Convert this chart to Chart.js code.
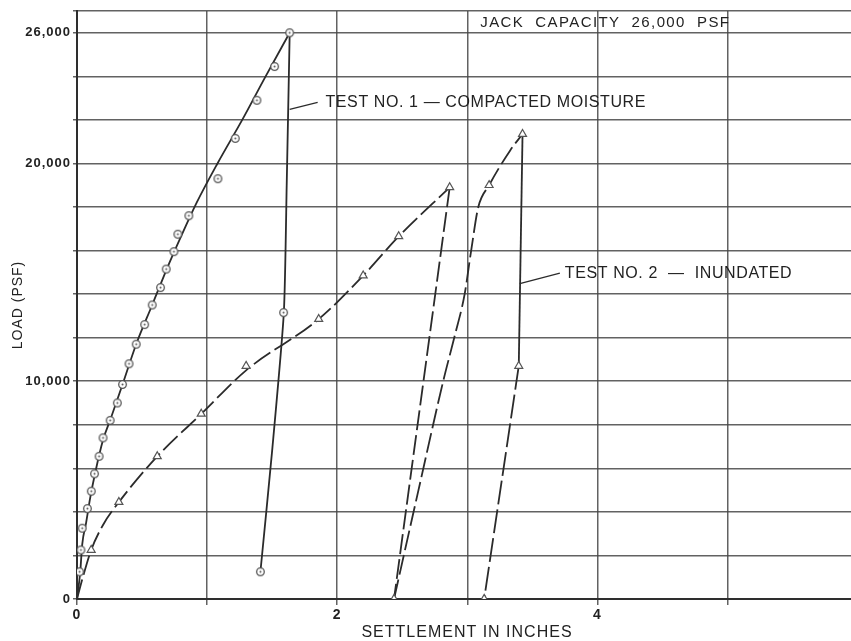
<!DOCTYPE html>
<html>
<head>
<meta charset="utf-8">
<script src="https://cdn.jsdelivr.net/npm/chart.js@4.4.1/dist/chart.umd.min.js"></script>
<style>
  html, body { margin: 0; padding: 0; background: #fff; overflow: hidden; }
  #wrap { width: 851px; height: 641px; position: relative; }
</style>
</head>
<body>
<div id="wrap"><canvas id="c" width="851" height="641"></canvas></div>
<script>
// Plate load tests: settlement (inches) against applied load (psf)

// Test No. 1 - compacted moisture: readings
const test1Settlement = [0.02, 0.03, 0.04, 0.08, 0.11, 0.135, 0.17, 0.2, 0.255, 0.31, 0.35, 0.40, 0.455, 0.52, 0.578, 0.642, 0.686, 0.745, 0.775, 0.86, 1.083, 1.217, 1.383, 1.519, 1.635, 1.588, 1.41];
const test1Load       = [1250, 2250, 3250, 4150, 4950, 5750, 6550, 7400, 8200, 9000, 9850, 10800, 11700, 12600, 13500, 14300, 15150, 15950, 16750, 17600, 19300, 21150, 22900, 24450, 26000, 13150, 1250];

// Test No. 1 - faired loading curve
const test1CurveSettlement = [0, 0.025, 0.04, 0.07, 0.1, 0.14, 0.2, 0.26, 0.35, 0.455, 0.578, 0.69, 0.8, 0.92, 1.08, 1.27, 1.45, 1.635];
const test1CurveLoad       = [0, 1250, 2500, 3500, 4600, 5800, 7300, 8300, 9850, 11700, 13500, 15150, 16650, 18200, 20000, 22000, 24000, 26000];

// Test No. 1 - unloading branch
const test1UnloadSettlement = [1.635, 1.612, 1.59, 1.5, 1.41];
const test1UnloadLoad       = [26000, 19000, 13150, 6800, 1250];

// Test No. 2 - inundated: readings
const test2Settlement = [0.109, 0.322, 0.617, 0.955, 1.30, 1.858, 2.20, 2.473, 2.865, 2.437, 3.168, 3.425, 3.396, 3.13];
const test2Load       = [2250, 4450, 6550, 8500, 10700, 12850, 14850, 16650, 18900, 0, 19000, 21350, 10700, 0];

// Test No. 2 - first loading curve
const test2CurveSettlement = [0, 0.045, 0.109, 0.2, 0.322, 0.617, 0.955, 1.3, 1.858, 2.2, 2.473, 2.865];
const test2CurveLoad       = [0, 1000, 2250, 3400, 4450, 6550, 8500, 10500, 12850, 14850, 16650, 18900];

// Test No. 2 - first unloading
const test2Unload1Settlement = [2.865, 2.437];
const test2Unload1Load       = [18900, 0];

// Test No. 2 - reloading curve
const test2ReloadSettlement = [2.437, 2.625, 2.815, 2.9, 2.98, 3.03, 3.085, 3.168, 3.33, 3.425];
const test2ReloadLoad       = [0, 5000, 10000, 12000, 14000, 16000, 18000, 19000, 20600, 21350];

// Test No. 2 - final unloading (solid then dashed)
const test2Unload2Settlement  = [3.425, 3.396];
const test2Unload2Load        = [21350, 10700];
const test2Unload2bSettlement = [3.396, 3.13];
const test2Unload2bLoad       = [10700, 0];

// Axis tick labels
const settlementTickLabels = [0, 2, 4];
const loadTickLabels = [0, 10000, 20000, 26000];

const pairs = (xs, ys) => xs.map((x, i) => ({ x: x, y: ys[i] }));

const INK = '#2b2b2b';
const MARK = '#555';

// open circle with centre dot used for the Test 1 readings
function ringDot() {
  const c = document.createElement('canvas');
  c.width = 11; c.height = 11;
  const g = c.getContext('2d');
  g.beginPath(); g.arc(5.5, 5.5, 3.8, 0, Math.PI * 2);
  g.fillStyle = '#fff'; g.fill();
  g.lineWidth = 1.3; g.strokeStyle = MARK; g.stroke();
  g.beginPath(); g.arc(5.5, 5.5, 1, 0, Math.PI * 2);
  g.fillStyle = MARK; g.fill();
  return c;
}

const lineStyle = (extra) => Object.assign({
  showLine: true, pointRadius: 0, borderColor: INK, borderWidth: 1.8,
  fill: false, order: 1
}, extra);

const DASH = [20, 5];

// captions and leader lines, placed in data units
const notes = [
  { text: 'JACK  CAPACITY  26,000  PSF', x: 3.1, y: 26450, font: '15px "Liberation Sans", Arial, sans-serif', spacing: '1.4px' },
  { text: 'TEST NO. 1 — COMPACTED MOISTURE', x: 1.91, y: 22800, font: '16px "Liberation Sans", Arial, sans-serif', spacing: '0.6px',
    from: [1.635, 22480], to: [1.85, 22800] },
  { text: 'TEST NO. 2  —  INUNDATED', x: 3.75, y: 14960, font: '16px "Liberation Sans", Arial, sans-serif', spacing: '0.6px',
    from: [3.404, 14480], to: [3.712, 14960] }
];

const spacedTicks = {
  id: 'spacedTicks',
  beforeDraw(chart) { chart.ctx.letterSpacing = '1px'; },
  beforeDatasetsDraw(chart) { chart.ctx.letterSpacing = '0px'; }
};

const captions = {
  id: 'captions',
  afterDraw(chart) {
    const ctx = chart.ctx, xs = chart.scales.x, ys = chart.scales.y, a = chart.chartArea;
    ctx.save();
    ctx.fillStyle = '#222';
    ctx.strokeStyle = INK;
    ctx.lineWidth = 1.3;
    notes.forEach(n => {
      if (n.from) {
        ctx.beginPath();
        ctx.moveTo(xs.getPixelForValue(n.from[0]), ys.getPixelForValue(n.from[1]));
        ctx.lineTo(xs.getPixelForValue(n.to[0]), ys.getPixelForValue(n.to[1]));
        ctx.stroke();
      }
      ctx.font = n.font;
      ctx.letterSpacing = n.spacing;
      ctx.textAlign = 'left';
      ctx.textBaseline = 'middle';
      ctx.fillText(n.text, xs.getPixelForValue(n.x), ys.getPixelForValue(n.y));
    });

    // axis titles
    ctx.font = '16px "Liberation Sans", Arial, sans-serif';
    ctx.letterSpacing = '1px';
    ctx.textAlign = 'center';
    ctx.textBaseline = 'middle';
    ctx.fillText('SETTLEMENT IN INCHES', (a.left + a.right) / 2 + 3, 633);

    ctx.font = '14px "Liberation Sans", Arial, sans-serif';
    ctx.translate(18, (a.top + a.bottom) / 2);
    ctx.rotate(-Math.PI / 2);
    ctx.fillText('LOAD (PSF)', 0, 0);
    ctx.restore();
  }
};

new Chart(document.getElementById('c'), {
  type: 'scatter',
  data: {
    datasets: [
      { label: 'Test 1 readings', data: pairs(test1Settlement, test1Load), pointStyle: ringDot(), pointRadius: 4, order: 0 },
      { label: 'Test 2 readings', data: pairs(test2Settlement, test2Load), pointStyle: 'triangle', pointRadius: 4.6,
        pointBackgroundColor: '#fff', pointBorderColor: MARK, pointBorderWidth: 1.2, order: 0 },
      lineStyle({ label: 'Test 1 loading', data: pairs(test1CurveSettlement, test1CurveLoad), cubicInterpolationMode: 'monotone' }),
      lineStyle({ label: 'Test 1 unloading', data: pairs(test1UnloadSettlement, test1UnloadLoad), tension: 0.2 }),
      lineStyle({ label: 'Test 2 loading', data: pairs(test2CurveSettlement, test2CurveLoad), cubicInterpolationMode: 'monotone', borderDash: DASH }),
      lineStyle({ label: 'Test 2 unloading', data: pairs(test2Unload1Settlement, test2Unload1Load), borderDash: DASH }),
      lineStyle({ label: 'Test 2 reloading', data: pairs(test2ReloadSettlement, test2ReloadLoad), cubicInterpolationMode: 'monotone', borderDash: DASH }),
      lineStyle({ label: 'Test 2 final unloading', data: pairs(test2Unload2Settlement, test2Unload2Load) }),
      lineStyle({ label: 'Test 2 final unloading (cont.)', data: pairs(test2Unload2bSettlement, test2Unload2bLoad), borderDash: [24, 5] })
    ]
  },
  options: {
    responsive: false,
    animation: false,
    devicePixelRatio: 1,
    layout: { autoPadding: false, padding: { top: 11, left: 0, right: 0, bottom: 0 } },
    plugins: { legend: { display: false }, tooltip: { enabled: false } },
    scales: {
      x: {
        type: 'linear', min: 0, max: 5.95,
        afterBuildTicks: s => { s.ticks = [0, 1, 2, 3, 4, 5].map(v => ({ value: v })); },
        afterFit: s => { s.height = 42; s.paddingRight = 0; s.paddingLeft = 0; },
        grid: { color: 'rgba(70,70,70,0.85)', lineWidth: 1.5, tickLength: 6, drawTicks: true },
        border: { color: '#2e2e2e', width: 2 },
        ticks: {
          color: '#222', padding: 2, maxRotation: 0, autoSkip: false,
          font: { family: '"Liberation Sans", Arial, sans-serif', size: 14, weight: 'bold' },
          callback: v => settlementTickLabels.includes(v) ? String(v) : ''
        }
      },
      y: {
        type: 'linear', min: 0, max: 27000,
        afterBuildTicks: s => {
          const t = [];
          for (let v = 0; v <= 26000; v += 2000) t.push({ value: v });
          t.push({ value: 27000 });
          s.ticks = t;
        },
        afterFit: s => { s.width = 77; s.paddingTop = 0; s.paddingBottom = 0; },
        grid: { color: 'rgba(70,70,70,0.85)', lineWidth: 1.5, tickLength: 4, drawTicks: true },
        border: { color: '#2e2e2e', width: 2 },
        ticks: {
          color: '#222', padding: 2, autoSkip: false,
          font: { family: '"Liberation Sans", Arial, sans-serif', size: 13, weight: 'bold' },
          callback: v => loadTickLabels.includes(v) ? v.toLocaleString('en-US') : ''
        }
      }
    }
  },
  plugins: [spacedTicks, captions]
});
</script>
</body>
</html>
